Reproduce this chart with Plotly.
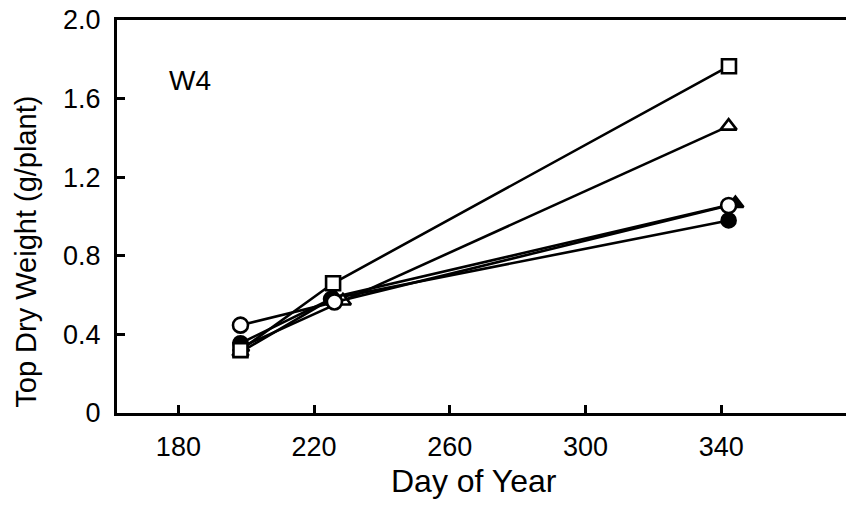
import plotly.graph_objects as go

days_sq = [198.3, 225.6, 342.3]
vals_sq = [0.32, 0.66, 1.765]
days_tri = [198.5, 228.5, 342.2]
vals_tri = [0.335, 0.57, 1.46]
days_circ = [198.3, 226, 342.2]
vals_circ = [0.447, 0.565, 1.056]
days_ftri = [198.3, 226, 344.2]
vals_ftri = [0.31, 0.59, 1.066]
days_fcirc = [198.3, 225, 342.2]
vals_fcirc = [0.355, 0.58, 0.98]

x_ticks = [180, 220, 260, 300, 340]
y_ticks = [0, 0.4, 0.8, 1.2, 1.6, 2.0]
y_ticktext = ["0", "0.4", "0.8", "1.2", "1.6", "2.0"]
panel_label = "W4"
x_title = "Day of Year"
y_title = "Top Dry Weight (g/plant)"

FONT = "Liberation Sans, Arial, sans-serif"

fig = go.Figure()

def add(xs, ys, symbol, filled, size):
    fig.add_trace(go.Scatter(
        x=xs, y=ys, mode="lines+markers",
        line=dict(color="black", width=2.6),
        marker=dict(symbol=symbol, size=size,
                    color="black" if filled else "white",
                    line=dict(color="black", width=2.6)),
        showlegend=False, cliponaxis=False))

add(days_fcirc, vals_fcirc, "circle", True, 14)
add(days_ftri, vals_ftri, "triangle-up", True, 14)
add(days_tri, vals_tri, "triangle-up", False, 14)
add(days_sq, vals_sq, "square", False, 14)
add(days_circ, vals_circ, "circle", False, 15)

fig.add_annotation(x=183.3, y=1.69, text=panel_label, showarrow=False,
                   font=dict(family=FONT, size=28, color="black"))

fig.add_annotation(xref="paper", yref="paper", x=0.49, y=0,
                   xanchor="center", yanchor="top", yshift=-48,
                   text=x_title, showarrow=False,
                   font=dict(family=FONT, size=32, color="black"))

fig.add_annotation(xref="paper", yref="paper", x=-0.125, y=0.41,
                   xanchor="center", yanchor="middle", textangle=-90,
                   text=y_title, showarrow=False,
                   font=dict(family=FONT, size=29, color="black"))

fig.update_layout(
    width=846, height=505,
    margin=dict(l=117, r=0, t=20, b=92),
    paper_bgcolor="white", plot_bgcolor="white",
    font=dict(family=FONT, size=27, color="black"),
    xaxis=dict(range=[161.9, 376.8], tickvals=x_ticks, ticks="inside",
               ticklen=8, tickwidth=2.5, tickcolor="black",
               showline=True, linecolor="black", linewidth=3, mirror=True,
               showgrid=False, zeroline=False, automargin=False,
               ticklabelstandoff=8, ticklabeloverflow="allow",
               tickfont=dict(size=27)),
    yaxis=dict(range=[0, 2.0], tickvals=y_ticks, ticktext=y_ticktext,
               ticks="inside", ticklen=8, tickwidth=2.5, tickcolor="black",
               showline=True, linecolor="black", linewidth=3,
               showgrid=False, zeroline=False, automargin=False,
               ticklabelstandoff=8, ticklabeloverflow="allow",
               tickfont=dict(size=27)),
)

fig.write_html("out.html",
               config={"displayModeBar": False},
               post_script="document.body.style.margin='0px';")
